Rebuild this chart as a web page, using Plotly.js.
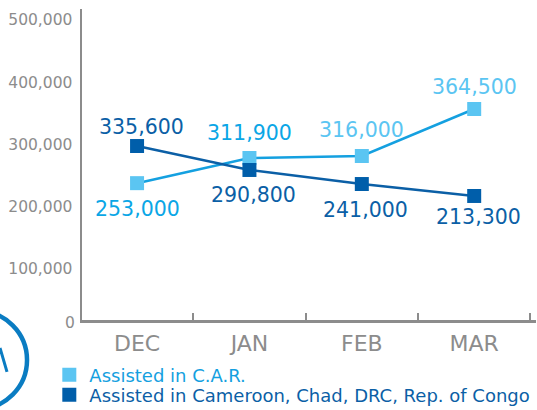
<!DOCTYPE html>
<html>
<head>
<meta charset="utf-8">
<script src="https://cdn.plot.ly/plotly-3.0.1.min.js"></script>
<style>html,body{margin:0;padding:0;background:#fff;}#chart{width:537px;height:410px;}</style>
</head>
<body>
<div id="chart"></div>
<script>
// ---- data ----
var months = ["DEC", "JAN", "FEB", "MAR"];
var carValues = [220000, 260500, 263700, 339200];          // plotted positions
var otherValues = [279700, 241200, 218600, 199400];
var carLabels = ["253,000", "311,900", "316,000", "364,500"];  // printed data labels
var otherLabels = ["335,600", "290,800", "241,000", "213,300"];
var yTickVals = [100000, 200000, 300000, 400000, 500000];
var yTickText = ["100,000", "200,000", "300,000", "400,000", "500,000"];
var seriesNames = ["Assisted in C.A.R.", "Assisted in Cameroon, Chad, DRC, Rep. of Congo"];

// ---- styles ----
var carLine = "#14A0E0", carMarker = "#5BC5F2";
var othLine = "#0B5FA6", othMarker = "#005EAA";
var gray = "#8c8c8c";
var FONT = "DejaVu Sans, Verdana, sans-serif";
var carLabelColors = ["#0AA6E6", "#0AA6E6", "#5BC5F2", "#5BC5F2"];
var carLabelShift = [-26, 25, 26, 22];
var othLabelShift = [19, -25, -26, -21];

var traces = [
  {x: months, y: carValues, type: "scatter", mode: "lines+markers", showlegend: false,
   line: {color: carLine, width: 2.5}, marker: {symbol: "square", size: 14, color: carMarker}},
  {x: months, y: otherValues, type: "scatter", mode: "lines+markers", showlegend: false,
   line: {color: othLine, width: 2.5}, marker: {symbol: "square", size: 14, color: othMarker}},
  {x: [null], y: [null], type: "scatter", mode: "markers", legend: "legend",
   name: "<span style='color:#14A0E0'>" + seriesNames[0] + "</span>",
   marker: {symbol: "square", size: 14, color: carMarker}},
  {x: [null], y: [null], type: "scatter", mode: "markers", legend: "legend2",
   name: "<span style='color:#0B5FA6'>" + seriesNames[1] + "</span>",
   marker: {symbol: "square", size: 14, color: othMarker}}
];

var annotations = [];
for (var i = 0; i < months.length; i++) {
  annotations.push({x: months[i], y: carValues[i], text: carLabels[i], showarrow: false,
    yshift: carLabelShift[i], font: {family: FONT, size: 20.5, color: carLabelColors[i]}});
  annotations.push({x: months[i], y: otherValues[i], text: otherLabels[i], showarrow: false,
    yshift: othLabelShift[i], xshift: 4, font: {family: FONT, size: 20.5, color: othLine}});
}
annotations.push({xref: "paper", yref: "y", x: 0, y: 0, xanchor: "right", text: "0", showarrow: false,
  xshift: -5, yshift: -3, font: {family: FONT, size: 15.5, color: gray}});

var legendBase = {
  xanchor: "left", yanchor: "middle", x: -0.072,
  font: {family: FONT, size: 18}, itemclick: false, bgcolor: "rgba(0,0,0,0)",
  borderwidth: 0
};
var layout = {
  width: 537, height: 410,
  margin: {l: 82, r: 1, t: 9, b: 90, autoexpand: false},
  paper_bgcolor: "#fff", plot_bgcolor: "#fff",
  font: {family: FONT},
  xaxis: {
    type: "category", range: [-0.49, 3.55], showgrid: false, zeroline: false,
    showline: true, linecolor: gray, linewidth: 2.5,
    ticks: "inside", tickson: "boundaries", ticklen: 7, tickwidth: 2, tickcolor: gray,
    tickfont: {family: FONT, size: 22, color: gray}, ticklabelstandoff: 2, fixedrange: true
  },
  yaxis: {
    range: [0, 500000], showgrid: false, zeroline: false,
    showline: true, linecolor: gray, linewidth: 2.5, ticks: "",
    tickvals: yTickVals, ticktext: yTickText,
    ticklabelshift: 11, ticklabelstandoff: 4, ticklabeloverflow: "allow",
    tickfont: {family: FONT, size: 15.5, color: gray}, fixedrange: true
  },
  showlegend: true,
  legend: Object.assign({}, legendBase, {y: (320 - 375) / 311}),
  legend2: Object.assign({}, legendBase, {y: (320 - 395) / 311}),
  annotations: annotations,
  shapes: [
    {type: "circle", xref: "paper", yref: "paper", x0: -0.337, x1: -0.1211, y0: -0.2862, y1: 0.0289,
     line: {color: "#0A7CC2", width: 4.5}},
    {type: "line", xref: "paper", yref: "paper", x0: -0.1806, x1: -0.1652, y0: -0.090, y1: -0.167,
     line: {color: "#0A7CC2", width: 3}}
  ]
};

Plotly.newPlot("chart", traces, layout, {displayModeBar: false, staticPlot: true});
</script>
</body>
</html>
